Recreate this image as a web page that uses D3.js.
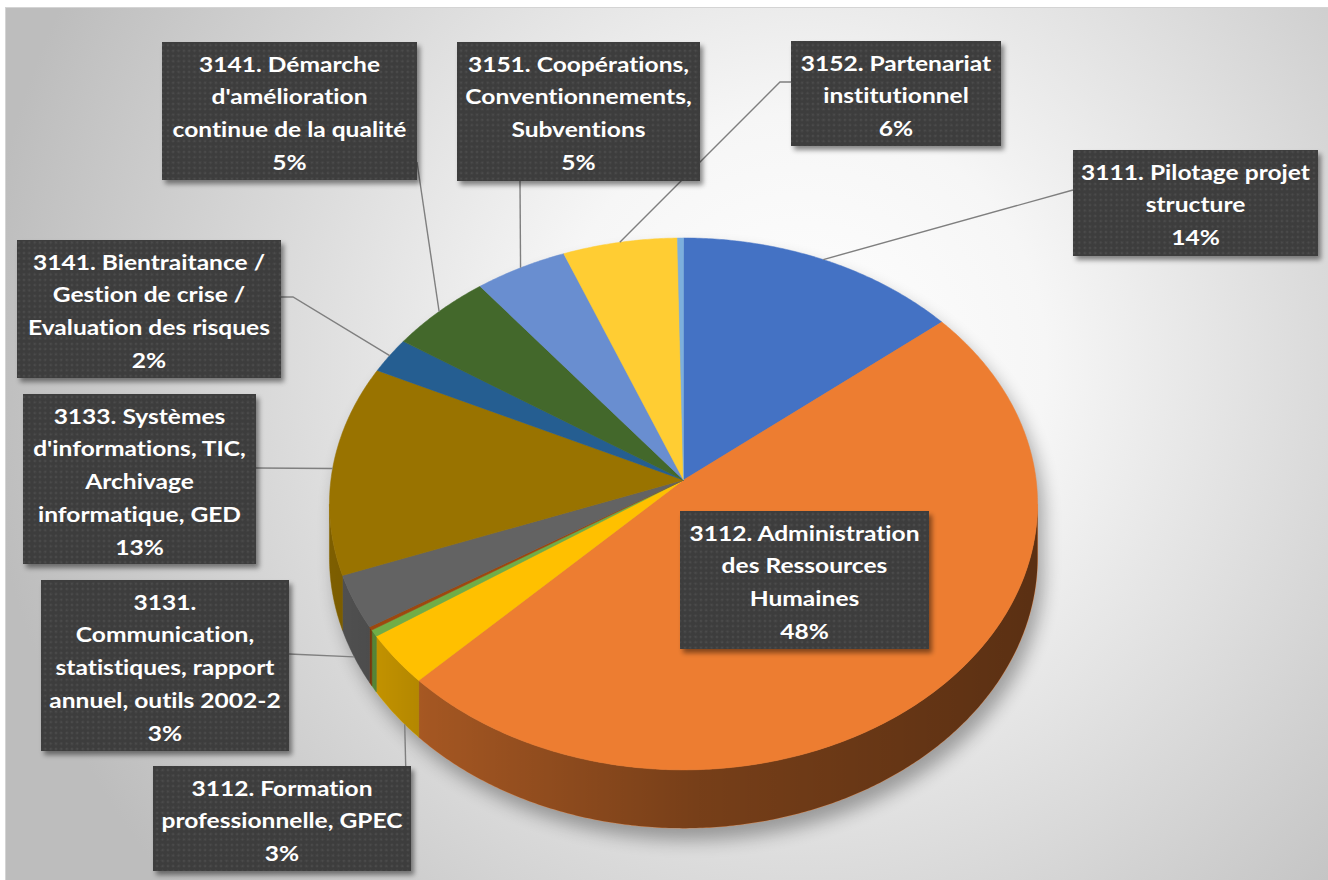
<!DOCTYPE html>
<html>
<head>
<meta charset="utf-8">
<script src="https://cdn.jsdelivr.net/npm/d3@7"></script>
<style>
html, body { margin: 0; padding: 0; background: #fff; overflow: hidden; }
svg { display: block; }
</style>
</head>
<body>
<div id="chart"></div>
<script>
// slices clockwise from 12 o'clock (in %)
var categories = [
    ["3111. Pilotage projet", "structure"],
    ["3112. Administration", "des Ressources", "Humaines"],
    ["3112. Formation", "professionnelle, GPEC"],
    null,
    null,
    ["3131.", "Communication,", "statistiques, rapport", "annuel, outils 2002-2"],
    ["3133. Systèmes", "d'informations, TIC,", "Archivage", "informatique, GED"],
    ["3141. Bientraitance /", "Gestion de crise /", "Evaluation des risques"],
    ["3141. Démarche", "d'amélioration", "continue de la qualité"],
    ["3151. Coopérations,", "Conventionnements,", "Subventions"],
    ["3152. Partenariat", "institutionnel"],
    null
];
var values = [14.1, 48.3, 3.1, 0.4, 0.2, 3.2, 12.8, 2.2, 5.1, 4.6, 5.7, 0.3];
var colors = ["#4472C4", "#ED7D31", "#FFC000", "#70AD47", "#9E480E", "#636363",
    "#997300", "#255E91", "#43682B", "#698ED0", "#FFCD33", "#7CAFDD"];

// label boxes (layout only): box, where the leader leaves it, where it hits the slice
var labelLayout = {
    0: {x: 1073, y: 150, w: 245, h: 106, lead: [[1073, 190]], at: 0.5},
    1: {x: 680, y: 511, w: 249, h: 138, lead: null},
    2: {x: 153, y: 766, w: 258, h: 105, lead: [[405.7, 766]], at: 0.3, side: true},
    5: {x: 41, y: 580, w: 248, h: 171, lead: [[289, 654]], at: 0.5, side: true},
    6: {x: 23, y: 394, w: 233, h: 170, lead: [[256, 468]], at: 0.5},
    7: {x: 17, y: 240, w: 264, h: 138, lead: [[281, 297], [293, 297]], at: 0.5},
    8: {x: 162, y: 42, w: 255, h: 138, lead: [[417, 162]], at: 0.5},
    9: {x: 457, y: 42, w: 243, h: 139, lead: [[520, 181]], at: 0.5},
    10: {x: 791, y: 41, w: 210, h: 105, lead: [[791, 82], [780, 82]], at: 0.5}
};

var width = 1328, height = 880;
var cx = 683.5, cy = 480;      // pie centre on screen
var K = 0.09;                   // perspective strength
var S = 352.6, ST = 263.8;      // horizontal / vertical radius
var H0 = 53;                    // thickness

var svg = d3.select("#chart")
    .append("svg")
    .attr("width", width)
    .attr("height", height);

var defs = svg.append("defs");

// plot background
var bg = defs.append("radialGradient")
    .attr("id", "bg")
    .attr("gradientUnits", "userSpaceOnUse")
    .attr("cx", 800).attr("cy", 360).attr("r", 820);
bg.append("stop").attr("offset", "0").attr("stop-color", "#ffffff");
bg.append("stop").attr("offset", "0.3").attr("stop-color", "#f6f6f6");
bg.append("stop").attr("offset", "1").attr("stop-color", "#bdbdbd");

// side shading
var sideGrad = defs.append("linearGradient")
    .attr("id", "sideShade")
    .attr("gradientUnits", "userSpaceOnUse")
    .attr("x1", 330).attr("x2", 1040).attr("y1", 0).attr("y2", 0);
[[0, 0.18], [0.14, 0.31], [0.52, 0.5], [1, 0.62]].forEach(function(s) {
    sideGrad.append("stop").attr("offset", s[0])
        .attr("stop-color", "#000").attr("stop-opacity", s[1]);
});

// dotted fill of the label boxes
var pat = defs.append("pattern")
    .attr("id", "dots")
    .attr("patternUnits", "userSpaceOnUse")
    .attr("width", 5.33).attr("height", 5.33);
pat.append("rect").attr("width", 5.33).attr("height", 5.33).attr("fill", "#3e3e3e");
pat.append("circle").attr("cx", 2.67).attr("cy", 2.67).attr("r", 1.2).attr("fill", "#4b4b4b");

var boxShadow = defs.append("filter").attr("id", "boxShadow")
    .attr("x", "-10%").attr("y", "-10%").attr("width", "130%").attr("height", "130%");
boxShadow.append("feDropShadow")
    .attr("dx", 3).attr("dy", 4).attr("stdDeviation", 2.5)
    .attr("flood-color", "#000").attr("flood-opacity", 0.45);

var blur = defs.append("filter").attr("id", "pieShadow")
    .attr("x", "-20%").attr("y", "-20%").attr("width", "140%").attr("height", "140%");
blur.append("feGaussianBlur").attr("stdDeviation", 9);

svg.append("rect")
    .attr("x", 5.5).attr("y", 7.5)
    .attr("width", width).attr("height", height)
    .attr("fill", "url(#bg)")
    .attr("stroke", "#d4d4d4");

// projection of the tilted disc
var sx = d3.scaleLinear().domain([-1, 1]).range([cx - S, cx + S]);
var sy = d3.scaleLinear().domain([-1, 1]).range([cy - ST, cy + ST]);

function proj(a) {
    var u = Math.sin(a), v = -Math.cos(a), w = 1 - K * v;
    return [sx(u / w), sy(v / w)];
}
function thick(a) {
    return H0 / (1 - K * -Math.cos(a));
}
function arcPoints(a0, a1) {
    var n = Math.max(2, Math.ceil((a1 - a0) / (Math.PI / 360)));
    return d3.range(n + 1).map(function(i) { return a0 + (a1 - a0) * i / n; });
}

var pie = d3.pie().sort(null).value(function(d) { return d; });
var arcs = pie(values);
var total = d3.sum(values);
var line = d3.line();

var frontA0 = Math.acos(-K), frontA1 = 2 * Math.PI - Math.acos(-K);

function sidePath(a0, a1) {
    var s = Math.max(a0, frontA0), e = Math.min(a1, frontA1);
    if (e <= s) return null;
    var angs = arcPoints(s, e);
    var top = angs.map(proj);
    var bot = angs.slice().reverse().map(function(a) {
        var p = proj(a);
        return [p[0], p[1] + thick(a)];
    });
    return line(top.concat(bot)) + "Z";
}

// soft shadow below the pie
var shadow = svg.append("g")
    .attr("filter", "url(#pieShadow)")
    .attr("opacity", 0.32)
    .attr("transform", "translate(6,12)");
shadow.append("path")
    .attr("d", line(arcPoints(0, 2 * Math.PI).map(proj)) + "Z")
    .attr("fill", "#000");
shadow.append("path")
    .attr("d", sidePath(0, 2 * Math.PI))
    .attr("fill", "#000");

// sides
var sides = svg.append("g");
arcs.forEach(function(d, i) {
    var p = sidePath(d.startAngle, d.endAngle);
    if (!p) return;
    sides.append("path").attr("d", p)
        .attr("fill", colors[i]).attr("stroke", colors[i]).attr("stroke-width", 0.5);
});
arcs.forEach(function(d) {
    var p = sidePath(d.startAngle, d.endAngle);
    if (!p) return;
    sides.append("path").attr("d", p).attr("fill", "url(#sideShade)");
});

// top faces
svg.append("g").selectAll("path")
    .data(arcs)
    .enter()
    .append("path")
    .attr("d", function(d) {
        var pts = [[cx, cy]].concat(arcPoints(d.startAngle, d.endAngle).map(proj));
        return line(pts) + "Z";
    })
    .attr("fill", function(d, i) { return colors[i]; })
    .attr("stroke", function(d, i) { return colors[i]; })
    .attr("stroke-width", 0.5);

// leader lines
var leaders = svg.append("g");
arcs.forEach(function(d, i) {
    var L = labelLayout[i];
    if (!L || !L.lead) return;
    var a = d.startAngle + (d.endAngle - d.startAngle) * L.at;
    var p = proj(a);
    if (L.side) p = [p[0], p[1] + thick(a)];
    leaders.append("path")
        .attr("d", line(L.lead.concat([p])))
        .attr("fill", "none")
        .attr("stroke", "#7f7f7f")
        .attr("stroke-width", 1.4);
});

// label boxes
var labels = svg.append("g");
arcs.forEach(function(d, i) {
    var L = labelLayout[i];
    if (!L || !categories[i]) return;
    var g = labels.append("g");
    g.append("rect")
        .attr("x", L.x).attr("y", L.y)
        .attr("width", L.w).attr("height", L.h)
        .attr("fill", "url(#dots)")
        .attr("filter", "url(#boxShadow)");
    var lines = categories[i].concat([Math.round(d.value / total * 100) + "%"]);
    lines.forEach(function(t, j) {
        g.append("text")
            .attr("transform", "translate(" + (L.x + L.w / 2) + "," + (L.y + 29.7 + j * 32.7) + ") scale(1.17,1)")
            .attr("text-anchor", "middle")
            .style("font-family", "Lato, 'Open Sans', sans-serif")
            .style("font-weight", "bold")
            .style("font-size", "21px")
            .style("font-variant-ligatures", "none")
            .attr("fill", "#ffffff")
            .text(t);
    });
});
</script>
</body>
</html>
